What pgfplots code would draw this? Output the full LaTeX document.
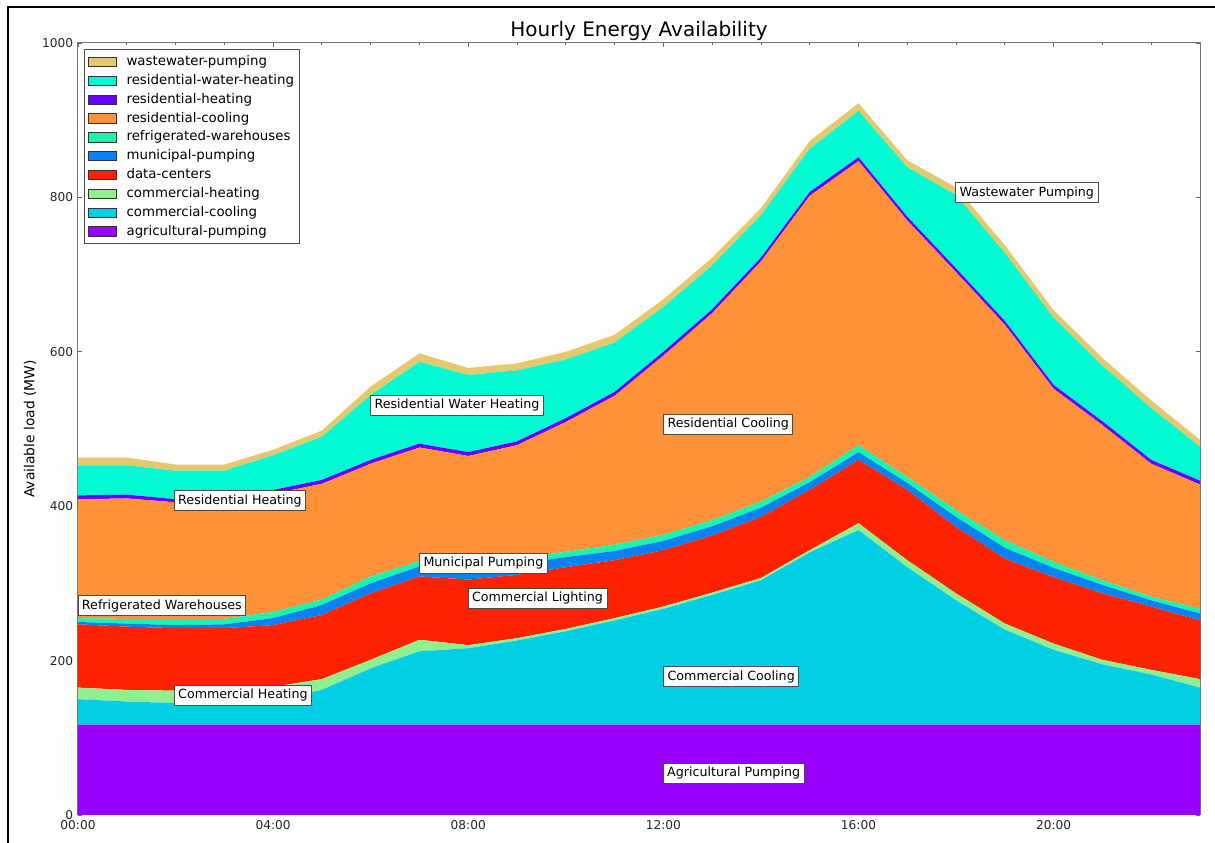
\documentclass[border=0pt]{standalone}
\usepackage{fontspec}
\setmainfont{DejaVu Sans}
\usepackage{pgfplots}
\usepackage{pgfplotstable}
\pgfplotsset{compat=1.18}

\definecolor{cAgr}{RGB}{153,0,255}
\definecolor{cCC}{RGB}{0,207,230}
\definecolor{cCH}{RGB}{144,240,144}
\definecolor{cDC}{RGB}{255,34,0}
\definecolor{cMP}{RGB}{10,130,245}
\definecolor{cRW}{RGB}{25,245,175}
\definecolor{cRC}{RGB}{255,145,58}
\definecolor{cRH}{RGB}{105,0,255}
\definecolor{cRWH}{RGB}{0,250,210}
\definecolor{cWW}{RGB}{230,200,110}

\tikzset{lab/.style={draw=black!70, line width=0.5pt, fill=white, inner xsep=2.4pt, inner ysep=2.3pt,
  font=\fontsize{7.6}{8.5}\selectfont, text height=5.8pt, text depth=1.6pt}}

\pgfplotstableread{
h agr cc ch dc mp rw rc rh rwh ww
0 117 33 15 82 3 5 154 5 39 10
1 117 30 15 82 4 6 156 5 38 10
2 117 28 16 81 4 8 151 4 37 8
3 117 28 16 81 5 7 152 5 35 8
4 117 33 16 80 9 8 153 5 45 7
5 117 45 14 83 13 7 150 5 56 8
6 117 73 11 86 13 9 146 5 84 11
7 117 95 15 82 13 7 147 5 106 11
8 117 99 4 85 13 7 140 5 100 9
9 117 109 3 82 14 7 147 5 92 9
10 117 121 3 80 13 7 168 5 76 10
11 117 135 3 75 12 8 193 5 64 10
12 117 150 3 73 12 8 232 5 58 10
13 117 168 3 74 12 8 268 5 57 10
14 117 187 3 79 12 8 311 5 55 9
15 117 223 3 78 10 7 364 5 56 10
16 117 252 9 82 10 9 368 5 60 10
17 117 204 9 91 9 8 332 5 64 9
18 117 161 9 86 13 9 308 5 95 10
19 117 123 8 84 14 10 279 5 88 10
20 117 97 8 86 12 8 224 5 87 10
21 117 78 6 86 11 6 201 5 72 10
22 117 65 6 82 8 5 172 5 67 10
23 117 48 11 76 9 6 161 5 44 9
}\data

\begin{document}
\begin{tikzpicture}
\useasboundingbox (0,0) rectangle (729pt,505.8pt);
\draw[line width=1.2pt] (4.8pt,0) -- (4.8pt,501.6pt) -- (729pt,501.6pt);
\begin{axis}[
  at={(46.8pt,16.8pt)}, anchor=south west,
  width=673.2pt, height=463.2pt, scale only axis,
  xmin=0, xmax=23, ymin=0, ymax=1000,
  stack plots=y,
  axis line style={black!55, line width=0.6pt},
  tick style={black!60, line width=0.5pt},
  tick align=inside,
  major tick length=2.4pt, minor tick length=1.4pt,
  xtick={0,4,8,12,16,20},
  xticklabels={00:00,04:00,08:00,12:00,16:00,20:00},
  minor xtick={1,2,3,5,6,7,9,10,11,13,14,15,17,18,19,21,22,23},
  ytick={0,200,400,600,800,1000},
  /pgf/number format/assume math mode=true,
  /pgf/number format/1000 sep={},
  ticklabel style={font=\fontsize{7.3}{8.5}\selectfont, text=black!85},
  yticklabel style={xshift=0.6pt},
  xticklabel style={yshift=0.4pt},
  legend image code/.code={\draw[#1,draw=black!80,line width=0.4pt] (0pt,-2.8pt) rectangle (16.8pt,2.8pt); \path (21.6pt,0pt);},
  reverse legend,
  legend cell align=left,
  legend style={at={(0,1)}, anchor=north west, xshift=3.6pt, yshift=-3.6pt,
    draw=black!70, line width=0.5pt, font=\fontsize{8}{9}\selectfont,
    nodes={inner sep=1.5pt, text height=6.2pt, text depth=1.8pt},
    row sep=0.3pt, inner xsep=2pt, inner ysep=2pt},
]
\addplot[fill=cAgr, draw=none] table[x=h,y=agr]{\data} \closedcycle;
\addlegendentry{agricultural-pumping}
\addplot[fill=cCC, draw=none] table[x=h,y=cc]{\data} \closedcycle;
\addlegendentry{commercial-cooling}
\addplot[fill=cCH, draw=none] table[x=h,y=ch]{\data} \closedcycle;
\addlegendentry{commercial-heating}
\addplot[fill=cDC, draw=none] table[x=h,y=dc]{\data} \closedcycle;
\addlegendentry{data-centers}
\addplot[fill=cMP, draw=none] table[x=h,y=mp]{\data} \closedcycle;
\addlegendentry{municipal-pumping}
\addplot[fill=cRW, draw=none] table[x=h,y=rw]{\data} \closedcycle;
\addlegendentry{refrigerated-warehouses}
\addplot[fill=cRC, draw=none] table[x=h,y=rc]{\data} \closedcycle;
\addlegendentry{residential-cooling}
\addplot[fill=cRH, draw=none] table[x=h,y=rh]{\data} \closedcycle;
\addlegendentry{residential-heating}
\addplot[fill=cRWH, draw=none] table[x=h,y=rwh]{\data} \closedcycle;
\addlegendentry{residential-water-heating}
\addplot[fill=cWW, draw=none] table[x=h,y=ww]{\data} \closedcycle;
\addlegendentry{wastewater-pumping}

\coordinate (L1) at (axis cs:19.45,806);
\coordinate (L2) at (axis cs:7.77,531);
\coordinate (L3) at (axis cs:3.32,407);
\coordinate (L4) at (axis cs:13.33,506);
\coordinate (L5) at (axis cs:8.31,326);
\coordinate (L6) at (axis cs:1.72,271);
\coordinate (L7) at (axis cs:9.42,281);
\coordinate (L8) at (axis cs:3.38,155);
\coordinate (L9) at (axis cs:13.39,179);
\coordinate (L10) at (axis cs:13.44,54);
\coordinate (tt) at (rel axis cs:0.5,1);
\coordinate (yl) at (rel axis cs:0,0.5);
\end{axis}
\node[lab] at (L1) {Wastewater Pumping};
\node[lab] at (L2) {Residential Water Heating};
\node[lab] at (L3) {Residential Heating};
\node[lab] at (L4) {Residential Cooling};
\node[lab] at (L5) {Municipal Pumping};
\node[lab] at (L6) {Refrigerated Warehouses};
\node[lab] at (L7) {Commercial Lighting};
\node[lab] at (L8) {Commercial Heating};
\node[lab] at (L9) {Commercial Cooling};
\node[lab] at (L10) {Agricultural Pumping};
\node[anchor=base, font=\fontsize{12}{14}\selectfont] at ([yshift=3.6pt]tt) {Hourly Energy Availability};
\node[rotate=90, font=\fontsize{8.3}{10}\selectfont] at ([xshift=-28.8pt]yl) {Available load (MW)};
\end{tikzpicture}
\end{document}
